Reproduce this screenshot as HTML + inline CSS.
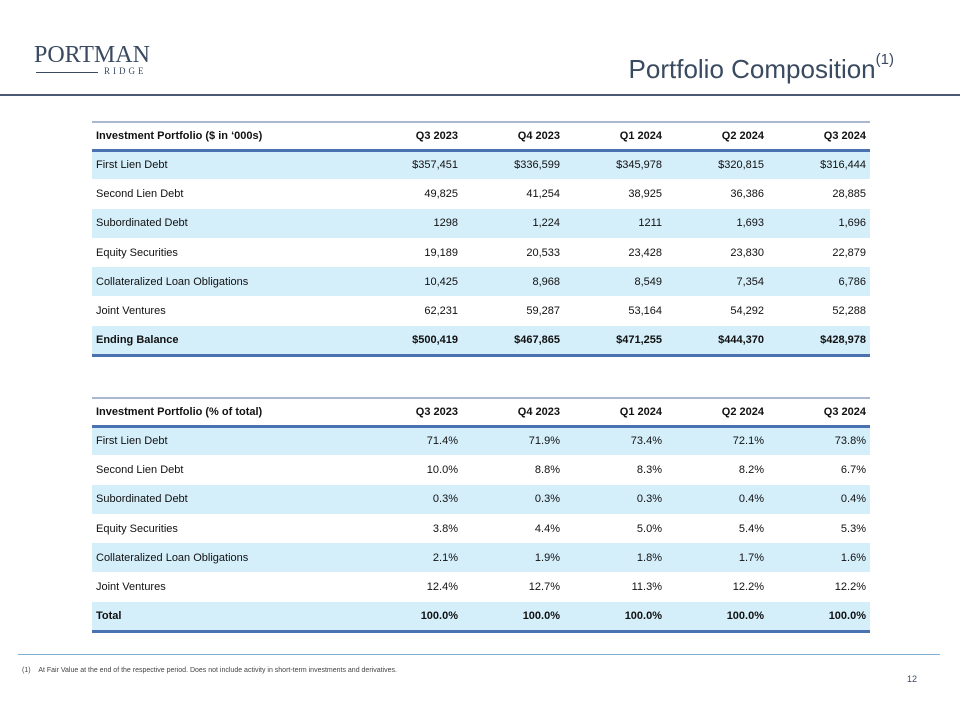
<!DOCTYPE html>
<html><head><meta charset="utf-8">
<style>
body{margin:0;width:960px;height:718px;background:#fff;font-family:"Liberation Sans",sans-serif;position:relative;overflow:hidden;color:#111}
.abs{position:absolute}
table{position:absolute;left:92px;width:778px;border-collapse:collapse;font-size:11px;table-layout:fixed}
td{height:29.3px;padding:0 4px;text-align:right;vertical-align:middle;width:102px;box-sizing:border-box}
td:first-child{text-align:left;width:268px}
tr.hd td{font-weight:bold;border-bottom:3px solid #4a72b0;height:28px}
tr.b td{background:#d4eefa}
tr.tot td{font-weight:bold;border-bottom:3px solid #4a72b0}
table{border-top:2px solid #a9b7cf}
</style></head><body>
<div class="abs" style="left:34px;top:42px;font-family:'Liberation Serif',serif;color:#3a4a60;font-size:24px">PORTMAN</div>
<div class="abs" style="left:36px;top:72px;width:62px;height:1px;background:#3a4a60"></div>
<div class="abs" style="left:104px;top:66px;font-family:'Liberation Serif',serif;color:#3a4a60;font-size:9px;letter-spacing:3px">RIDGE</div>
<div class="abs" style="right:66px;top:54px;font-size:26px;color:#3a4a60">Portfolio Composition<sup style="font-size:15px;position:relative;top:-4px">(1)</sup></div>
<div class="abs" style="left:0;top:94px;width:960px;height:2px;background:#4a5a75"></div>

<table style="top:121px">
<tr class="hd"><td>Investment Portfolio ($ in ‘000s)</td><td>Q3 2023</td><td>Q4 2023</td><td>Q1 2024</td><td>Q2 2024</td><td>Q3 2024</td></tr>
<tr class="b"><td>First Lien Debt</td><td>$357,451</td><td>$336,599</td><td>$345,978</td><td>$320,815</td><td>$316,444</td></tr>
<tr><td>Second Lien Debt</td><td>49,825</td><td>41,254</td><td>38,925</td><td>36,386</td><td>28,885</td></tr>
<tr class="b"><td>Subordinated Debt</td><td>1298</td><td>1,224</td><td>1211</td><td>1,693</td><td>1,696</td></tr>
<tr><td>Equity Securities</td><td>19,189</td><td>20,533</td><td>23,428</td><td>23,830</td><td>22,879</td></tr>
<tr class="b"><td>Collateralized Loan Obligations</td><td>10,425</td><td>8,968</td><td>8,549</td><td>7,354</td><td>6,786</td></tr>
<tr><td>Joint Ventures</td><td>62,231</td><td>59,287</td><td>53,164</td><td>54,292</td><td>52,288</td></tr>
<tr class="b tot"><td>Ending Balance</td><td>$500,419</td><td>$467,865</td><td>$471,255</td><td>$444,370</td><td>$428,978</td></tr>
</table>

<table style="top:397px">
<tr class="hd"><td>Investment Portfolio (% of total)</td><td>Q3 2023</td><td>Q4 2023</td><td>Q1 2024</td><td>Q2 2024</td><td>Q3 2024</td></tr>
<tr class="b"><td>First Lien Debt</td><td>71.4%</td><td>71.9%</td><td>73.4%</td><td>72.1%</td><td>73.8%</td></tr>
<tr><td>Second Lien Debt</td><td>10.0%</td><td>8.8%</td><td>8.3%</td><td>8.2%</td><td>6.7%</td></tr>
<tr class="b"><td>Subordinated Debt</td><td>0.3%</td><td>0.3%</td><td>0.3%</td><td>0.4%</td><td>0.4%</td></tr>
<tr><td>Equity Securities</td><td>3.8%</td><td>4.4%</td><td>5.0%</td><td>5.4%</td><td>5.3%</td></tr>
<tr class="b"><td>Collateralized Loan Obligations</td><td>2.1%</td><td>1.9%</td><td>1.8%</td><td>1.7%</td><td>1.6%</td></tr>
<tr><td>Joint Ventures</td><td>12.4%</td><td>12.7%</td><td>11.3%</td><td>12.2%</td><td>12.2%</td></tr>
<tr class="b tot"><td>Total</td><td>100.0%</td><td>100.0%</td><td>100.0%</td><td>100.0%</td><td>100.0%</td></tr>
</table>

<div class="abs" style="left:18px;top:654px;width:922px;height:1px;background:#7fb0d0"></div>
<div class="abs" style="left:22px;top:667px;font-size:7px;color:#444">(1)&nbsp;&nbsp;&nbsp;&nbsp;At Fair Value at the end of the respective period. Does not include activity in short-term investments and derivatives.</div>
<div class="abs" style="right:43px;top:674px;font-size:9px;color:#3a4a60">12</div>
</body></html>
